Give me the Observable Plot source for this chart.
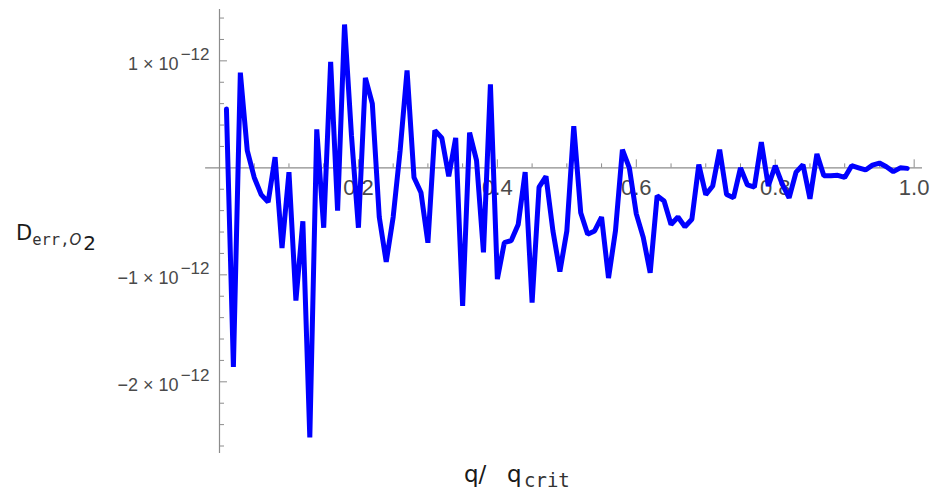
<!DOCTYPE html>
<html><head><meta charset="utf-8">
<script src="https://cdn.jsdelivr.net/npm/d3@7"></script>
<script src="https://cdn.jsdelivr.net/npm/@observablehq/plot@0.6"></script>
<style>body{margin:0;background:#fff}#chart svg{display:block}</style>
</head><body><div id="chart"></div>
<script>
// q / q_crit
const qRatio = [0.01,0.02,0.03,0.04,0.05,0.06,0.07,0.08,0.09,0.10,
  0.11,0.12,0.13,0.14,0.15,0.16,0.17,0.18,0.19,0.20,
  0.21,0.22,0.23,0.24,0.25,0.26,0.27,0.28,0.29,0.30,
  0.31,0.32,0.33,0.34,0.35,0.36,0.37,0.38,0.39,0.40,
  0.41,0.42,0.43,0.44,0.45,0.46,0.47,0.48,0.49,0.50,
  0.51,0.52,0.53,0.54,0.55,0.56,0.57,0.58,0.59,0.60,
  0.61,0.62,0.63,0.64,0.65,0.66,0.67,0.68,0.69,0.70,
  0.71,0.72,0.73,0.74,0.75,0.76,0.77,0.78,0.79,0.80,
  0.81,0.82,0.83,0.84,0.85,0.86,0.87,0.88,0.89,0.90,
  0.91,0.92,0.93,0.94,0.95,0.96,0.97,0.98,0.99];
// D_err,O2 in units of 1e-12
const dErr = [0.55,-1.86,0.89,0.16,-0.09,-0.25,-0.32,0.10,-0.75,-0.04,
  -1.24,-0.50,-2.52,0.36,-0.56,0.99,-0.40,1.34,0.30,-0.56,
  0.84,0.60,-0.46,-0.88,-0.46,0.16,0.91,-0.09,-0.23,-0.70,
  0.35,0.28,-0.08,0.28,-1.29,0.33,0.07,-0.79,0.78,-1.04,
  -0.70,-0.68,-0.53,-0.04,-1.26,-0.18,-0.08,-0.59,-0.97,-0.59,
  0.39,-0.42,-0.62,-0.59,-0.46,-1.03,-0.59,0.17,0.00,-0.43,
  -0.65,-0.98,-0.26,-0.31,-0.53,-0.46,-0.55,-0.48,0.03,-0.25,
  -0.17,0.17,-0.25,-0.28,0.00,-0.16,-0.18,0.24,-0.17,0.02,
  -0.15,-0.28,-0.04,0.03,-0.29,0.13,-0.075,-0.075,-0.07,-0.09,
  0.02,0.00,-0.02,0.025,0.045,0.01,-0.035,0.00,-0.005];

const xMajorTicks = [0.2,0.4,0.6,0.8,1.0];
const xMajorLabels = ["0.2","0.4","0.6","0.8","1.0"];
const xMinorTicks = [0.05,0.1,0.15,0.25,0.3,0.35,0.45,0.5,0.55,0.65,0.7,0.75,0.85,0.9,0.95];
const yMajorTicks = [1,-1,-2];
const yMajorLabels = ["1 × 10","\u22121 × 10","\u22122 × 10"];
const yExponentLabel = "\u221212";
const yMinorTicks = [1.4,1.2,0.8,0.6,0.4,0.2,-0.2,-0.4,-0.6,-0.8,-1.2,-1.4,-1.6,-1.8,-2.2,-2.4,-2.6];

const data = qRatio.map((q,i)=>({q, d: dErr[i]}));
const axisColor = "#8c8c8c";
const labelColor = "#4a4a4a";

const plot = Plot.plot({
  width: 932, height: 496,
  marginLeft: 219, marginRight: 10, marginTop: 9, marginBottom: 43,
  x: {domain: [0, 1.012], axis: null},
  y: {domain: [-2.67, 1.48], axis: null},
  style: {background: "white", fontFamily: "Liberation Sans, Arial, sans-serif"},
  marks: [
    Plot.ruleY([0], {x1: -0.02, x2: 1.012, stroke: axisColor, strokeWidth: 1.2}),
    Plot.ruleX([0], {y1: -2.67, y2: 1.48, stroke: axisColor, strokeWidth: 1.2}),
    Plot.ruleX(xMinorTicks, {x: d => d, y1: 0, y2: 0.037, stroke: axisColor}),
    Plot.ruleX(xMajorTicks, {x: d => d, y1: 0, y2: 0.075, stroke: axisColor}),
    Plot.ruleY(yMinorTicks, {y: d => d, x1: 0, x2: 0.0072, stroke: axisColor}),
    Plot.ruleY(yMajorTicks, {y: d => d, x1: 0, x2: 0.0115, stroke: axisColor}),
    Plot.text(xMajorTicks, {x: d => d, y: 0, dy: 20, text: (d, i) => xMajorLabels[i], fontSize: 22, fill: labelColor}),
    Plot.text(yMajorTicks, {x: 0, y: d => d, dx: -41, dy: 3, text: (d, i) => yMajorLabels[i], textAnchor: "end", fontSize: 18, fill: labelColor}),
    Plot.text(yMajorTicks, {x: 0, y: d => d, dx: -10, dy: -6, text: () => yExponentLabel, textAnchor: "end", fontSize: 17, fill: labelColor}),
    Plot.line(data, {x: "q", y: "d", stroke: "#0000ff", strokeWidth: 5, strokeLinejoin: "miter"})
  ]
});

const svg = d3.select(plot);
const yl = svg.append("text").attr("x", 16).attr("y", 240).attr("text-anchor", "start").attr("fill", "#1a1a1a").attr("font-family", "DejaVu Sans");
yl.append("tspan").attr("font-size", 21).text("D");
yl.append("tspan").attr("font-family", "DejaVu Sans Mono").attr("font-size", 15.5).attr("dy", 5).attr("fill", "#333").text("err,");
yl.append("tspan").attr("font-style", "italic").attr("font-size", 15).attr("fill", "#333").text("O");
yl.append("tspan").attr("font-size", 20).attr("dy", 5).attr("dx", 2).text("2");

const xl = svg.append("text").attr("y", 482).attr("text-anchor", "start").attr("fill", "#1a1a1a").attr("font-family", "DejaVu Sans");
xl.append("tspan").attr("x", 464).attr("font-size", 23).text("q/");
xl.append("tspan").attr("x", 507).attr("font-size", 23).text("q");
xl.append("tspan").attr("x", 524).attr("dy", 5).attr("font-family", "DejaVu Sans Mono").attr("font-size", 19).attr("fill", "#333").text("crit");

document.getElementById("chart").append(plot);
</script>
</body></html>
